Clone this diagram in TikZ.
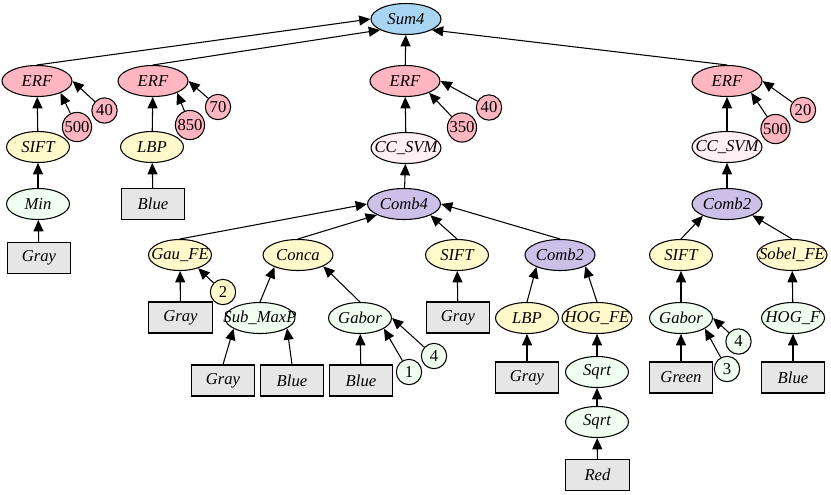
\documentclass[tikz,border=0pt]{standalone}
\usepackage{fontspec}
\setmainfont{Liberation Serif}
\usetikzlibrary{shapes.geometric,arrows.meta}
\definecolor{sumblue}{RGB}{168,214,242}
\definecolor{erfpink}{RGB}{255,182,193}
\definecolor{svmpink}{RGB}{255,240,245}
\definecolor{combpurple}{RGB}{204,192,232}
\definecolor{feyellow}{RGB}{255,249,204}
\definecolor{opgreen}{RGB}{240,255,240}
\definecolor{imggray}{RGB}{230,230,230}
\newcommand{\fixlbl}[1]{\makebox[0pt]{#1}}
\tikzset{
  op/.style={ellipse, draw, line width=0.8pt, inner sep=0pt, minimum width=47.25pt, minimum height=23.25pt, font=\fontsize{12.5}{14}\selectfont\itshape},
  opw/.style={op, minimum width=52.5pt},
  img/.style={rectangle, draw, line width=0.8pt, fill=imggray, inner sep=0pt, minimum width=47.5pt, minimum height=23.25pt, font=\fontsize{12.5}{14}\selectfont\itshape},
  num/.style={circle, draw, line width=0.8pt, inner sep=0.5pt, minimum size=19pt, font=\fontsize{12.5}{14}\selectfont},
  arr/.style={-{Triangle[length=8.5pt,width=7.5pt]}, line width=0.8pt}
}
\begin{document}
\begin{tikzpicture}[x=0.75pt, y=-0.75pt]
\useasboundingbox (0,0) rectangle (831,494);
% root
\node[opw, fill=sumblue] (sum) at (406,19) {\fixlbl{Sum4}};
% ERF layer
\node[opw, fill=erfpink] (erfA) at (37,81) {\fixlbl{ERF}};
\node[opw, fill=erfpink] (erfB) at (153,81) {\fixlbl{ERF}};
\node[opw, fill=erfpink] (erfC) at (405,81) {\fixlbl{ERF}};
\node[opw, fill=erfpink] (erfD) at (727,81) {\fixlbl{ERF}};
\node[num, fill=erfpink] (nA1) at (77,127) {500};
\node[num, fill=erfpink] (nA2) at (104.5,110.5) {40};
\node[num, fill=erfpink] (nB1) at (190,125) {850};
\node[num, fill=erfpink] (nB2) at (218,107) {70};
\node[num, fill=erfpink] (nC1) at (462,127.5) {350};
\node[num, fill=erfpink] (nC2) at (489,107.5) {40};
\node[num, fill=erfpink] (nD1) at (775.5,129) {500};
\node[num, fill=erfpink] (nD2) at (803,110) {20};
% second layer
\node[op, fill=feyellow] (siftA) at (38,147) {\fixlbl{SIFT}};
\node[op, fill=feyellow] (lbpA) at (152,147) {\fixlbl{LBP}};
\node[opw, fill=svmpink] (svmC) at (406,148) {\fixlbl{CC\_SVM}};
\node[opw, fill=svmpink] (svmD) at (727,147) {\fixlbl{CC\_SVM}};
\node[op, fill=opgreen] (minA) at (38,204) {\fixlbl{Min}};
\node[img] (blueB) at (153,204) {Blue};
\node[opw, fill=combpurple, minimum width=54.75pt] (combC) at (404,204) {\fixlbl{Comb4}};
\node[opw, fill=combpurple] (combD) at (727,204) {\fixlbl{Comb2}};
\node[img] (grayA) at (39,258) {Gray};
% features under the combiners
\node[op, fill=feyellow] (gau) at (180,255) {\fixlbl{Gau\_FE}};
\node[opw, fill=feyellow] (conca) at (298,255) {\fixlbl{Conca}};
\node[op, fill=feyellow] (siftC) at (457,255) {\fixlbl{SIFT}};
\node[opw, fill=combpurple] (combE) at (560,255) {\fixlbl{Comb2}};
\node[op, fill=feyellow] (siftD) at (681,255) {\fixlbl{SIFT}};
\node[opw, fill=feyellow] (sobel) at (792,255) {\fixlbl{Sobel\_FE}};
\node[num, fill=feyellow] (nG) at (223,292) {2};
\node[img] (grayG) at (180.5,317.5) {Gray};
\node[opw, fill=opgreen] (submax) at (260,318) {\fixlbl{Sub\_MaxP}};
\node[op, fill=opgreen] (gaborC) at (360,318) {\fixlbl{Gabor}};
\node[img] (grayS) at (458,317.5) {Gray};
\node[op, fill=feyellow] (lbpE) at (527,318) {\fixlbl{LBP}};
\node[opw, fill=feyellow] (hog) at (597,318) {\fixlbl{HOG\_FE}};
\node[op, fill=opgreen] (gaborD) at (681,318) {\fixlbl{Gabor}};
\node[op, fill=opgreen] (hogf) at (793,318) {\fixlbl{HOG\_F}};
\node[num, fill=opgreen] (n1) at (409,372) {1};
\node[num, fill=opgreen] (n4) at (434,356) {4};
\node[num, fill=opgreen] (n3) at (727,369) {3};
\node[num, fill=opgreen] (n4b) at (738.5,341.5) {4};
% bottom layers
\node[img] (graySub) at (223,380.5) {Gray};
\node[img] (blueSub) at (292,380.5) {Blue};
\node[img] (blueGab) at (361,380.5) {Blue};
\node[img] (grayL) at (527,377.5) {Gray};
\node[op, fill=opgreen] (sqrtA) at (597,372) {\fixlbl{Sqrt}};
\node[img] (green) at (681,377.5) {Green};
\node[img] (blueH) at (793,377.5) {Blue};
\node[op, fill=opgreen] (sqrtB) at (597,422) {\fixlbl{Sqrt}};
\node[img] (red) at (597.5,475) {Red};
% edges
\draw[arr] (erfA.north) -- (sum.west);
\draw[arr] (erfB.north) -- (sum.203);
\draw[arr] (erfC) -- (sum);
\draw[arr] (erfD.north) -- (sum.-23);
\draw[arr] (nA2) -- (erfA.east);
\draw[arr] (nA1) -- (erfA.-27);
\draw[arr] (nB2) -- (erfB.east);
\draw[arr] (nB1) -- (erfB.-26);
\draw[arr] (nC2) -- (erfC.east);
\draw[arr] (nC1) -- (erfC.-26);
\draw[arr] (nD2) -- (erfD.east);
\draw[arr] (nD1) -- (erfD.-26);
\draw[arr] (siftA) -- (erfA);
\draw[arr] (minA) -- (siftA);
\draw[arr] (grayA) -- (minA);
\draw[arr] (lbpA) -- (erfB);
\draw[arr] (blueB) -- (lbpA);
\draw[arr] (svmC) -- (erfC);
\draw[arr] (combC) -- (svmC);
\draw[arr] (svmD) -- (erfD);
\draw[arr] (combD) -- (svmD);
\draw[arr] (gau.north) -- (combC.west);
\draw[arr] (conca.north) -- (combC.202);
\draw[arr] (siftC.north) -- (combC.-23);
\draw[arr] (combE.north) -- (combC.east);
\draw[arr] (siftD.north) -- (combD.206);
\draw[arr] (sobel.north) -- (combD.-24);
\draw[arr] (grayG) -- (gau);
\draw[arr] (nG) -- (gau.-36);
\draw[arr] (submax.north) -- (conca.207);
\draw[arr] (gaborC.north) -- (conca.-24);
\draw[arr] (graySub.north) -- (submax.202);
\draw[arr] (blueSub.north) -- (submax.-21);
\draw[arr] (blueGab) -- (gaborC);
\draw[arr] (n1) -- (gaborC.-24);
\draw[arr] (n4) -- (gaborC.east);
\draw[arr] (grayS) -- (siftC);
\draw[arr] (lbpE.north) -- (combE.207);
\draw[arr] (hog.north) -- (combE.-24);
\draw[arr] (grayL) -- (lbpE);
\draw[arr] (sqrtA) -- (hog);
\draw[arr] (sqrtB) -- (sqrtA);
\draw[arr] (red) -- (sqrtB);
\draw[arr] (gaborD) -- (siftD);
\draw[arr] (green) -- (gaborD);
\draw[arr] (n4b) -- (gaborD.east);
\draw[arr] (n3) -- (gaborD.-24);
\draw[arr] (hogf) -- (sobel);
\draw[arr] (blueH) -- (hogf);
\end{tikzpicture}
\end{document}
